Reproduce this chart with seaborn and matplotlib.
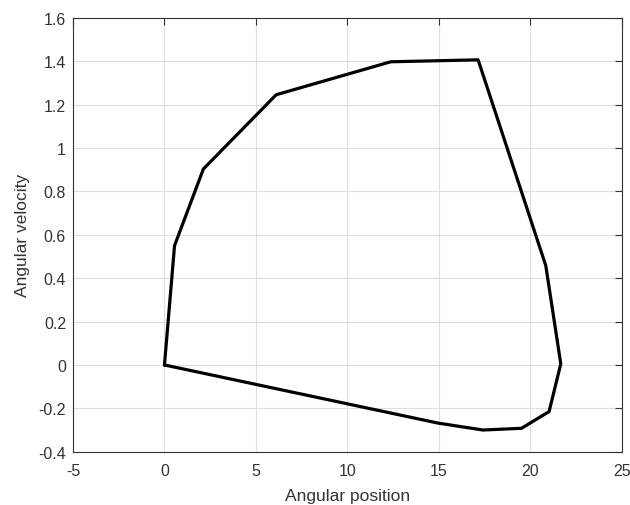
import matplotlib
matplotlib.use('Agg')
import matplotlib.pyplot as plt
import seaborn as sns
import pandas as pd

# Phase-plane trajectory (closed loop)
angular_position = [0.0, 0.55, 2.13, 6.11, 12.37, 17.15, 20.85, 21.67, 21.03, 19.52, 17.42, 14.96, 0.0]
angular_velocity = [0.0, 0.55, 0.904, 1.246, 1.398, 1.407, 0.458, 0.005, -0.215, -0.292, -0.30, -0.268, 0.0]

x_ticks = [-5, 0, 5, 10, 15, 20, 25]
y_ticks = [-0.4, -0.2, 0, 0.2, 0.4, 0.6, 0.8, 1, 1.2, 1.4, 1.6]
y_tick_labels = ['-0.4', '-0.2', '0', '0.2', '0.4', '0.6', '0.8', '1', '1.2', '1.4', '1.6']

sns.set_style('white')
plt.rcParams['font.family'] = ['Liberation Sans', 'DejaVu Sans']

df = pd.DataFrame({'pos': angular_position, 'vel': angular_velocity})

fig = plt.figure(figsize=(6.3, 5.06), dpi=100)
ax = fig.add_axes([0.1159, 0.1053, 0.8709, 0.8572])

sns.lineplot(data=df, x='pos', y='vel', sort=False, estimator=None,
             color='black', linewidth=2.3, ax=ax)

ax.set_xlim(-5, 25)
ax.set_ylim(-0.4, 1.6)
ax.set_xticks(x_ticks)
ax.set_xticklabels([str(t) for t in x_ticks])
ax.set_yticks(y_ticks)
ax.set_yticklabels(y_tick_labels)

ax.grid(True, color='#dedede', linewidth=0.8)
ax.set_axisbelow(True)
ax.tick_params(direction='in', top=True, right=True, length=5, width=0.8,
               colors='#333333', labelsize=11.5)
ax.tick_params(axis='x', pad=8)
ax.tick_params(axis='y', pad=5)
for s in ax.spines.values():
    s.set_color('#333333')
    s.set_linewidth(0.8)

ax.set_xlabel('Angular position', fontsize=12.5, color='#333333', labelpad=7)
ax.set_ylabel('Angular velocity', fontsize=12.5, color='#333333', labelpad=6)

fig.savefig('out.png', dpi=100)
